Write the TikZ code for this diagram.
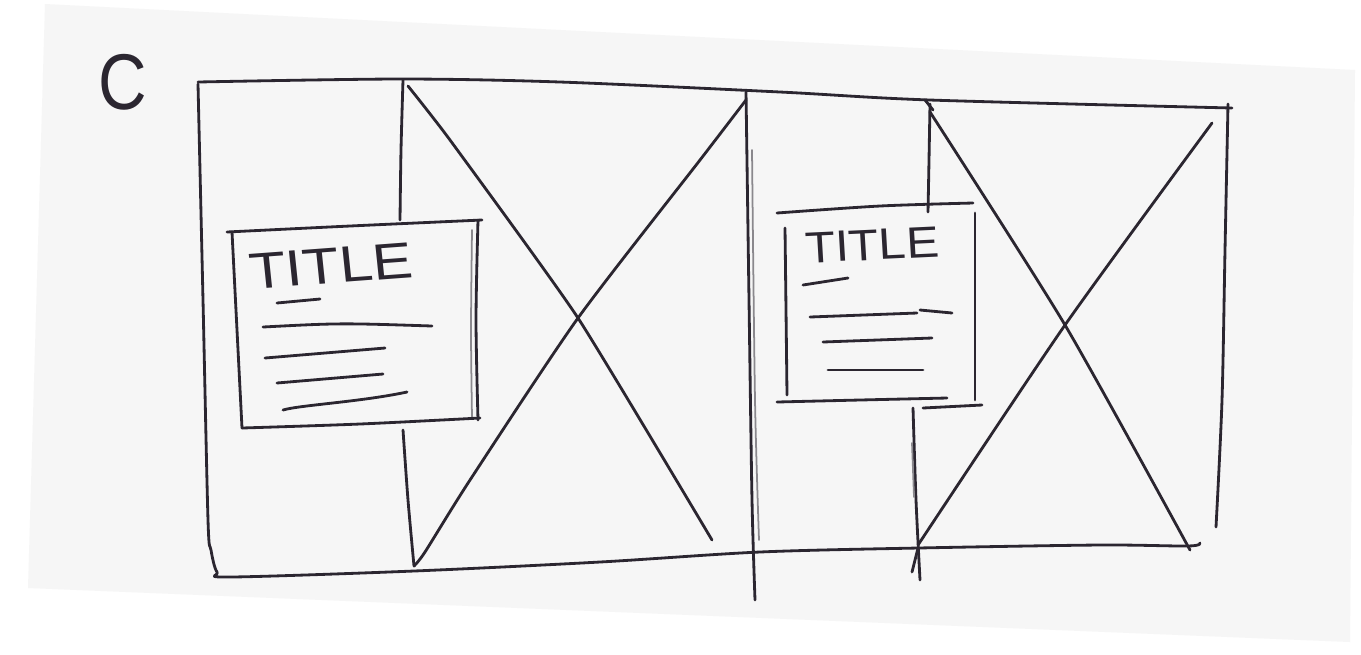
\documentclass[tikz,border=0pt]{standalone}
\usepackage{fontspec}
\setmainfont{Liberation Sans}
\definecolor{ink}{HTML}{2B2630}
\definecolor{paper}{HTML}{F6F6F6}
\begin{document}
\begin{tikzpicture}[x=0.02cm,y=-0.02cm,
  pen/.style={draw=ink, line width=1.6pt, line cap=round, line join=round},
  faint/.style={draw=ink!55, line width=1pt, line cap=round},
  hand/.style={text=ink, inner sep=0pt, anchor=center}]
\useasboundingbox (0,0) rectangle (1361,654);
\fill[white] (0,0) rectangle (1361,654);
\fill[paper] (45,4) -- (1355,70) -- (1350,642) -- (28,588) -- cycle;

% label
\node[hand, font=\fontsize{45}{45}\selectfont, xscale=0.85] (lbl) at (123,82) {C};

% outer frame
\draw[pen] plot[smooth, tension=0.5] coordinates {(198,82) (400,79) (560,82) (780,92) (930,100) (1232,108)};
\draw[pen] plot[smooth, tension=0.5] coordinates {(1228,104) (1225,250) (1222,400) (1216,527)};
\draw[pen] plot[smooth, tension=0.5] coordinates {(198,84) (203,300) (208,520) (211,550) (217,572) (230,577) (414,571) (600,562) (760,552) (918,548) (1100,545) (1188,546) (1200,543)};

% left panel divider
\draw[pen] plot[smooth] coordinates {(403,80) (401,150) (400,220)};
\draw[pen] plot[smooth] coordinates {(403,430) (408,500) (414,566)};

% left X
\draw[pen] plot[smooth, tension=0.3] coordinates {(408,86) (450,140) (578,318) (712,540)};
\draw[pen] plot[smooth, tension=0.4] coordinates {(746,100) (700,160) (578,318) (470,480) (425,552) (414,566)};

% middle divider
\draw[pen] plot[smooth] coordinates {(746,92) (749,300) (752,500) (755,600)};
\draw[faint] plot[smooth] coordinates {(752,150) (755,400) (759,540)};

% right panel divider
\draw[pen] plot[smooth] coordinates {(930,104) (929,160) (928,212)};
\draw[pen] (925,100) -- (933,110);
\draw[pen] plot[smooth] coordinates {(913,408) (916,500) (920,580)};
\draw[faint] plot[smooth] coordinates {(912,443) (914,497)};
\draw[pen] (912,572) -- (918,548);

% right X
\draw[pen] plot[smooth, tension=0.4] coordinates {(930,112) (1065,325) (1190,550)};
\draw[pen] plot[smooth, tension=0.4] coordinates {(1212,123) (1065,325) (918,545)};

% left card
\draw[pen] plot[smooth] coordinates {(227,232) (350,226) (482,220)};
\draw[pen] plot[smooth] coordinates {(232,232) (237,330) (242,428)};
\draw[pen] plot[smooth] coordinates {(478,220) (476,320) (478,420)};
\draw[faint] plot[smooth] coordinates {(472,230) (471,330) (472,418)};
\draw[pen] plot[smooth] coordinates {(242,428) (360,424) (480,418)};
\node[hand, font=\fontsize{29}{29}\selectfont, xscale=1.18, rotate=5] (t1) at (331,266) {TITLE};
\draw[pen] (277,303) -- (320,299);
\draw[pen] (263,327) .. controls (340,323) .. (432,326);
\draw[pen] (265,358) -- (385,348);
\draw[pen] (277,383) -- (383,374);
\draw[pen] (283,410) .. controls (300,405) and (360,402) .. (407,392);

% right card
\draw[pen] plot[smooth] coordinates {(777,213) (880,206) (973,203)};
\draw[pen] plot[smooth] coordinates {(785,228) (786,310) (787,395)};
\draw[pen] plot[smooth] coordinates {(975,213) (975,300) (975,400)};
\draw[pen] plot[smooth] coordinates {(777,402) (860,400) (947,398)};
\draw[pen] (923,408) -- (982,405);
\node[hand, font=\fontsize{25}{25}\selectfont, xscale=1.12, rotate=3] (t2) at (872,245) {TITLE};
\draw[pen] (803,285) -- (848,278);
\draw[pen] (810,317) -- (917,313);
\draw[pen] (920,310) -- (952,313);
\draw[pen] (823,342) -- (932,338);
\draw[pen] (828,370) -- (923,370);
\end{tikzpicture}
\end{document}
